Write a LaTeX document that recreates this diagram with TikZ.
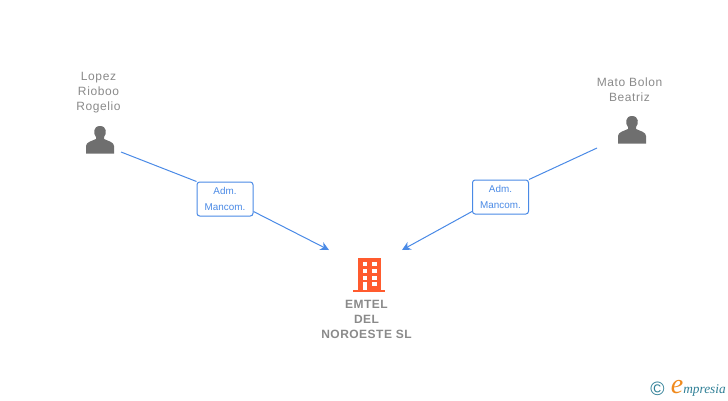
\documentclass[tikz,border=0pt]{standalone}
\usepackage{fontspec}
\setmainfont{Liberation Sans}
\newfontfamily\namefont[LetterSpace=5]{Liberation Sans}
\newfontfamily\boldnamefont[LetterSpace=4]{Liberation Sans}
\newfontfamily\logofont{Liberation Serif}
\usepackage{tikz}
\usetikzlibrary{positioning,arrows.meta}
\definecolor{linkblue}{HTML}{4A8AE6}
\definecolor{textgray}{HTML}{8A8A8A}
\definecolor{icongray}{HTML}{6F6F6F}
\definecolor{roofred}{HTML}{FF5B2E}
\definecolor{logoteal}{HTML}{2F7F96}
\definecolor{logoorange}{HTML}{F08A1D}
\tikzset{
  person/.style={text=textgray,font=\namefont\fontsize{9pt}{11.3pt}\selectfont,align=center,inner sep=0pt},
  company/.style={text=textgray,font=\boldnamefont\bfseries\fontsize{9pt}{11.3pt}\selectfont,align=center,inner sep=0pt},
  role/.style={draw=linkblue,fill=white,rounded corners=2pt,line width=0.75pt,text=linkblue,
    font=\fontsize{7.4pt}{11.3pt}\selectfont,align=center,minimum width=42pt,minimum height=25.5pt,inner sep=0pt},
  link/.style={draw=linkblue,line width=0.75pt},
  arrowlink/.style={link,-{Stealth[length=6.5pt,width=6.5pt,inset=2pt]}},
  pics/silhouette/.style={code={
    \fill[icongray] (-14,13.5) -- (-14,6) .. controls (-14,2) and (-8,1) .. (-4,-1)
      -- (-4,-3) .. controls (-7,-6) and (-7,-14) .. (0,-14) .. controls (7,-14) and (7,-6) .. (4,-3)
      -- (4,-1) .. controls (8,1) and (14,2) .. (14,6) -- (14,13.5) -- cycle;
  }}
}
\begin{document}
\begin{tikzpicture}[x=0.75pt,y=-0.75pt]
\useasboundingbox (0,0) rectangle (728,400);
% people
\node[person] (lopez) at (98.5,92.5) {Lopez\\Rioboo\\Rogelio};
\pic at (100,140) {silhouette};
\node[person] (mato) at (629.5,89.5) {Mato Bolon\\Beatriz};
\pic at (632,130) {silhouette};
% building
\fill[roofred] (358,258) rectangle (381,290);
\fill[roofred] (353,289.5) rectangle (385,292);
\foreach \wy in {262,269,275.5,282} {
  \fill[white] (362.5,\wy) rectangle +(4.5,4);
  \fill[white] (372,\wy) rectangle +(4.5,4);
}
\fill[white] (362.5,282) rectangle (367,289.5);
\node[company] (emtel) at (366.5,319) {EMTEL\\DEL\\NOROESTE SL};
% roles
\node[role] (adm1) at (225,199) {Adm.\\Mancom.};
\node[role] (adm2) at (500.5,197) {Adm.\\Mancom.};
\coordinate (lopezend) at (121,152);
\coordinate (matoend) at (597,148);
\coordinate (emtelleft) at (329,250);
\coordinate (emtelright) at (402,250);
\draw[link] (lopezend) -- (adm1.north west);
\draw[link] (matoend) -- (adm2.north east);
\draw[arrowlink] (adm1.south east) ++(0,-5) -- (emtelleft);
\draw[arrowlink] (adm2.south west) ++(0,-3) -- (emtelright);
% logo
\node[inner sep=0pt,text=logoteal,font=\fontsize{14.5pt}{14.5pt}\selectfont] (copyr) at (657.5,389) {©};
\node[inner sep=0pt,text=logoorange,font=\logofont\itshape\fontsize{21pt}{21pt}\selectfont] (logoe) at (677,387) {e};
\node[inner sep=0pt,anchor=base west,text=logoteal,font=\logofont\itshape\fontsize{10pt}{10pt}\selectfont] (logotext) at (683,393) {mpresia};
\end{tikzpicture}
\end{document}
